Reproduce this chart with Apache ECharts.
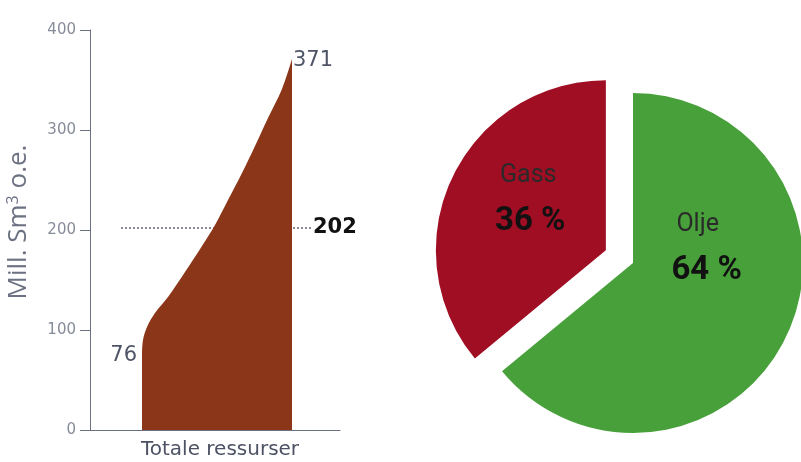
<!DOCTYPE html>
<html>
<head>
<meta charset="utf-8">
<script src="https://cdn.jsdelivr.net/npm/echarts@6/dist/echarts.min.js"></script>
<style>
  html, body { margin: 0; padding: 0; background: #fff; }
  #chart { width: 801px; height: 462px; }
</style>
</head>
<body>
<div id="chart"></div>
<script>
// left panel: resource curve (x = horizontal position along the category, y = Mill. Sm3 o.e.)
const curveX = [52, 53, 57, 65, 78, 95, 112, 125, 138, 152, 165, 178, 192, 202];
const curveY = [76, 90, 103, 117, 133, 158, 184, 205, 230, 257, 284, 312, 341, 371];
const refLineX = [31, 222];
const refValue = 202;
const xName = 'Totale ressurser';

// right panel: share of resources
const pieNames = ['Olje', 'Gass'];
const pieValues = [64, 36];
const pieColors = ['#48a03a', '#a00e23'];

const chart = echarts.init(document.getElementById('chart'));

const curveData = curveX.map((x, i) => {
  const item = { value: [x, curveY[i]] };
  if (i === 0) {
    item.label = { show: true, position: 'left', distance: 5, offset: [0, 2], formatter: String(curveY[i]) };
  } else if (i === curveX.length - 1) {
    item.label = { show: true, position: 'right', distance: 1, offset: [0, 2], formatter: String(curveY[i]) };
  }
  return item;
});

const refData = refLineX.map((x, i) => {
  const item = { value: [x, refValue] };
  if (i === refLineX.length - 1) {
    item.label = {
      show: true, position: 'right', distance: 1, formatter: String(refValue),
      color: '#111', fontWeight: 'bold', fontSize: 21, fontFamily: 'DejaVu Sans'
    };
  }
  return item;
});

const option = {
  animation: false,
  grid: { left: 90, top: 30, width: 250, height: 400, outerBoundsMode: 'none' },
  xAxis: {
    type: 'value', min: 0, max: 250,
    name: xName, nameLocation: 'middle', nameGap: 10,
    nameTextStyle: { fontSize: 20, color: '#4c5263', fontFamily: 'DejaVu Sans', padding: [0, 0, 0, 10] },
    axisLine: { show: true, lineStyle: { color: '#6b7080', width: 1 } },
    axisTick: { show: false },
    axisLabel: { show: false },
    splitLine: { show: false }
  },
  yAxis: {
    type: 'value', min: 0, max: 400, interval: 100,
    name: '{m|Mill. Sm}{s|3}{m| o.e.}', nameLocation: 'middle', nameGap: 57, nameRotate: 90,
    nameTextStyle: {
      padding: [0, 0, 0, 16],
      rich: {
        m: { fontSize: 26, color: '#6d7282', fontFamily: 'Open Sans', lineHeight: 28 },
        s: { fontSize: 16, color: '#6d7282', fontFamily: 'Open Sans', verticalAlign: 'top', lineHeight: 18 }
      }
    },
    axisLine: { show: true, lineStyle: { color: '#6b7080', width: 1 } },
    axisTick: { show: true, length: 10, lineStyle: { color: '#6b7080' } },
    axisLabel: { margin: 14, fontSize: 15, color: '#878c99', fontFamily: 'DejaVu Sans' },
    splitLine: { show: false }
  },
  series: [
    {
      type: 'line',
      data: refData,
      z: 1,
      symbol: 'circle',
      symbolSize: 0,
      lineStyle: { type: [2, 2], color: '#3a3f4c', width: 1.2 },
      silent: true
    },
    {
      type: 'line',
      data: curveData,
      z: 3,
      smooth: 0.35,
      symbol: 'circle',
      symbolSize: 0,
      lineStyle: { width: 0 },
      areaStyle: { color: '#8b3619', opacity: 1 },
      label: { fontSize: 21, color: '#4f5566', fontFamily: 'DejaVu Sans' },
      silent: true
    },
    {
      type: 'pie',
      center: [633, 263],
      radius: 170,
      startAngle: 90,
      clockwise: true,
      selectedMode: 'single',
      selectedOffset: 30,
      silent: true,
      data: pieNames.map((n, i) => ({
        name: n,
        value: pieValues[i],
        selected: n === 'Gass',
        itemStyle: { color: pieColors[i] },
        label: { padding: n === 'Olje' ? [0, 12, 106, 0] : [0, 0, 28, 8] }
      })),
      label: {
        position: 'inside',
        formatter: p => '{n|' + p.name + '}\n{p|' + p.value + ' %}',
        rich: {
          n: { fontSize: 25, color: '#2a2a2a', fontFamily: 'Roboto', lineHeight: 46, align: 'left', padding: [0, 0, 0, 5] },
          p: { fontSize: 33, color: '#111', fontWeight: 'bold', fontFamily: 'Roboto', lineHeight: 46, align: 'left' }
        }
      },
      labelLine: { show: false }
    }
  ]
};

chart.setOption(option);
</script>
</body>
</html>
